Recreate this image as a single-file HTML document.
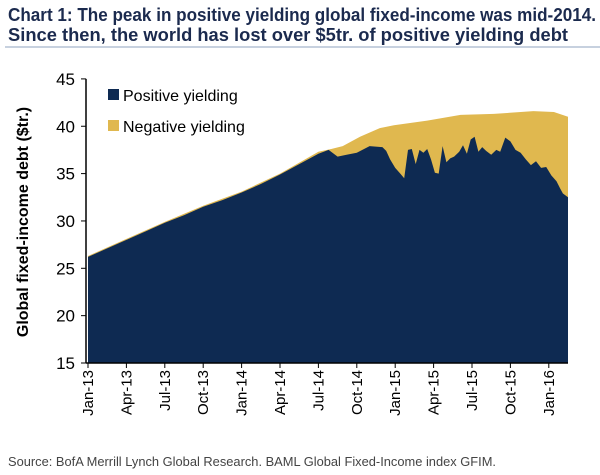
<!DOCTYPE html>
<html><head><meta charset="utf-8"><style>
body{margin:0;background:#fff;}
svg{display:block;}
text{font-family:"Liberation Sans",sans-serif;}
</style></head><body>
<svg id="chart" width="600" height="475" viewBox="0 0 600 475" xmlns="http://www.w3.org/2000/svg">
<text x="8" y="21" font-size="18" font-weight="bold" fill="#1b2a4e" textLength="588" lengthAdjust="spacingAndGlyphs">Chart 1: The peak in positive yielding global fixed-income was mid-2014.</text>
<text x="8" y="41" font-size="18" font-weight="bold" fill="#1b2a4e" textLength="560" lengthAdjust="spacingAndGlyphs">Since then, the world has lost over $5tr. of positive yielding debt</text>
<line x1="5" y1="47" x2="600" y2="47" stroke="#8fa3bf" stroke-width="1"/>
<path id="negArea" fill="#e0b84f"/>
<path id="posArea" fill="#0e2a52"/>
<g id="yaxis"></g>
<g id="xaxis"></g>
<text transform="translate(28,222) rotate(-90)" text-anchor="middle" font-size="16" font-weight="bold" fill="#000">Global fixed-income debt ($tr.)</text>
<rect x="108" y="89" width="11" height="11" fill="#0e2a52"/>
<text x="123" y="101" font-size="16" fill="#000">Positive yielding</text>
<rect x="108" y="120" width="11" height="11" fill="#e0b84f"/>
<text x="123" y="132" font-size="16" fill="#000">Negative yielding</text>
<text x="8" y="466" font-size="13" fill="#444" textLength="488" lengthAdjust="spacingAndGlyphs">Source: BofA Merrill Lynch Global Research. BAML Global Fixed-Income index GFIM.</text>
</svg>
<script>
const posMonths=[0,1.5,3,4.5,6,7.5,9,10.5,12,13.5,15,16.5,18,18.8,19.5,20.2,21,22,23,23.3,23.6,24,24.4,24.7,25,25.3,25.6,25.9,26.2,26.5,26.8,27.1,27.4,27.7,28,28.3,28.6,29,29.3,29.6,29.9,30.2,30.5,30.8,31.1,31.5,31.9,32.2,32.6,33,33.4,33.8,34.2,34.6,35,35.4,35.8,36.2,36.6,36.9,37.1,37.5];
const posValues=[26.2,27.1,28.0,28.9,29.8,30.6,31.5,32.2,33.0,33.9,34.9,36.0,37.1,37.5,36.8,37.0,37.2,37.9,37.8,37.4,36.5,35.6,35.0,34.5,37.5,37.6,36.0,37.5,37.2,37.6,36.5,35.1,35.0,37.9,36.2,36.6,36.8,37.3,38.0,37.1,38.6,38.9,37.3,37.8,37.4,37.0,37.5,37.3,38.8,38.4,37.5,37.2,36.5,35.9,36.3,35.6,35.7,34.8,34.2,33.4,32.9,32.5];
const totMonths=[0,3,6,9,12,15,18,19,19.9,21.25,22.8,23.9,26.5,29.1,31.7,34.8,36.4,37.5];
const totValues=[26.3,28.1,29.9,31.6,33.1,35.0,37.3,37.6,37.9,38.9,39.8,40.1,40.6,41.2,41.3,41.6,41.5,41.0];
const yTicks=[15,20,25,30,35,40,45];
const xTickLabels=["Jan-13","Apr-13","Jul-13","Oct-13","Jan-14","Apr-14","Jul-14","Oct-14","Jan-15","Apr-15","Jul-15","Oct-15","Jan-16"];

const X0=88, PX_PER_MONTH=12.8, Y15=363, PX_PER_UNIT=9.47;
function xs(m){return X0+m*PX_PER_MONTH;}
function ys(v){return Y15-(v-15)*PX_PER_UNIT;}
function area(ms,vs){
  let d="M"+xs(ms[0])+","+ys(15);
  for(let i=0;i<ms.length;i++) d+=" L"+xs(ms[i]).toFixed(1)+","+ys(vs[i]).toFixed(1);
  d+=" L"+xs(ms[ms.length-1])+","+ys(15)+" Z";
  return d;
}
document.getElementById('negArea').setAttribute('d',area(totMonths,totValues));
document.getElementById('posArea').setAttribute('d',area(posMonths,posValues));
const NS="http://www.w3.org/2000/svg";
const ya=document.getElementById('yaxis');
const yl=document.createElementNS(NS,'line');


yl.setAttribute('x1',86);yl.setAttribute('x2',86);yl.setAttribute('y1',ys(45));yl.setAttribute('y2',ys(15));
yl.setAttribute('stroke','#000');yl.setAttribute('stroke-width','1.5');ya.appendChild(yl);
yTicks.forEach(v=>{
  const t=document.createElementNS(NS,'line');
  
  
  t.setAttribute('x1',81);t.setAttribute('x2',86);t.setAttribute('y1',ys(v));t.setAttribute('y2',ys(v));
  t.setAttribute('stroke','#000');ya.appendChild(t);
  const l=document.createElementNS(NS,'text');
  
  
  l.setAttribute('x',75);l.setAttribute('y',ys(v)+6);l.setAttribute('text-anchor','end');l.setAttribute('font-size','17');
  l.textContent=v;ya.appendChild(l);
});
const xa=document.getElementById('xaxis');
const xl=document.createElementNS(NS,'line');


xl.setAttribute('x1',86);xl.setAttribute('x2',xs(37.5));xl.setAttribute('y1',Y15);xl.setAttribute('y2',Y15);
xl.setAttribute('stroke','#000');xl.setAttribute('stroke-width','1.5');xa.appendChild(xl);
xTickLabels.forEach((s,i)=>{
  const x=xs(i*3);
  const t=document.createElementNS(NS,'line');
  
  
  t.setAttribute('x1',x);t.setAttribute('x2',x);t.setAttribute('y1',Y15);t.setAttribute('y2',Y15+5);
  t.setAttribute('stroke','#000');xa.appendChild(t);
  const l=document.createElementNS(NS,'text');
  
  
  l.setAttribute('transform','translate('+(x+5)+',370) rotate(-90)');
  l.setAttribute('text-anchor','end');l.setAttribute('font-size','15');
  l.textContent=s;xa.appendChild(l);
});
</script>
</body></html>
